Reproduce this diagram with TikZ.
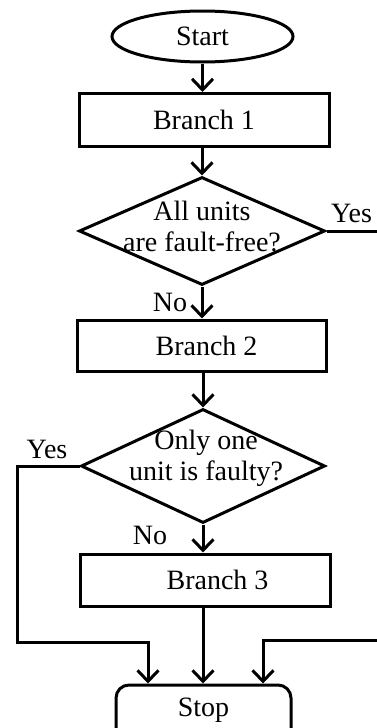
\documentclass[tikz,border=0pt]{standalone}
\usepackage{fontspec}
\setmainfont{Liberation Serif}
\usetikzlibrary{arrows.meta,shapes.geometric}
\begin{document}
\begin{tikzpicture}[x=1pt,y=-1pt,
  every node/.style={font=\fontsize{28}{31}\selectfont, inner sep=0pt},
  box/.style={draw, line width=3pt, minimum width=250pt, minimum height=53pt},
  dec/.style={draw, diamond, line width=3pt, minimum width=246pt, minimum height=108pt},
  lbl/.style={align=center},
  flow/.style={line width=3pt, -{Straight Barb[length=11pt,width=21pt,line width=3pt]}},
  wire/.style={line width=3pt}
]
\clip (0,0) rectangle (377,728);
\fill[white] (0,0) rectangle (377,728);

\node[draw, ellipse, line width=3pt, minimum width=181pt, minimum height=51pt] (start) at (202.5,36.5) {Start};
\node[box] (b1) at (204,120) {Branch 1};
\node[dec] (d1) at (202,231) {};
\node[lbl] (t1) at (202,226) {All units\\are fault-free?};
\node[box, minimum width=249pt, minimum height=51pt] (b2) at (201.5,345.5) {\hspace{10pt}Branch 2};
\node[dec, minimum width=244pt, minimum height=114pt] (d2) at (203,466) {};
\node[lbl] (t2) at (206,458) {Only one\\unit is faulty?};
\node[box, minimum height=52pt] (b3) at (205,580) {\hspace{25pt}Branch 3};
\node[draw, line width=3pt, rounded corners=13pt, minimum width=175pt, minimum height=60pt] (stop) at (203.5,715) {};
\node (stoptxt) at (203.5,710) {Stop};

\node[anchor=west] (yesR) at (331,213) {Yes};
\node (yesL) at (47,449) {Yes};
\node (no1) at (170,302) {No};
\node (no2) at (150,535) {No};

\coordinate (rEdge1) at (385,231);
\coordinate (rEdge2) at (385,640);
\coordinate (lc1) at (17,466);
\coordinate (lc2) at (17,642);
\coordinate (lc3) at (148,642);
\coordinate (rc1) at (263,640);

\draw[flow] (start.south) -- (start.south |- b1.north);
\draw[flow] (b1.south -| d1.north) -- (d1.north);
\draw[flow] (d1.south) -- (d1.south |- b2.north);
\draw[flow] (b2.south -| d2.north) -- (d2.north);
\draw[flow] (d2.south) -- (d2.south |- b3.north);
\draw[flow] (b3.south -| d2.south) -- (d2.south |- stop.north);
\draw[wire] (d1.east) -- (rEdge1);
\draw[flow] (d2.west) -- (lc1) -- (lc2) -- (lc3) -- (lc3 |- stop.north);
\draw[flow] (rEdge2) -- (rc1) -- (rc1 |- stop.north);
\end{tikzpicture}
\end{document}
